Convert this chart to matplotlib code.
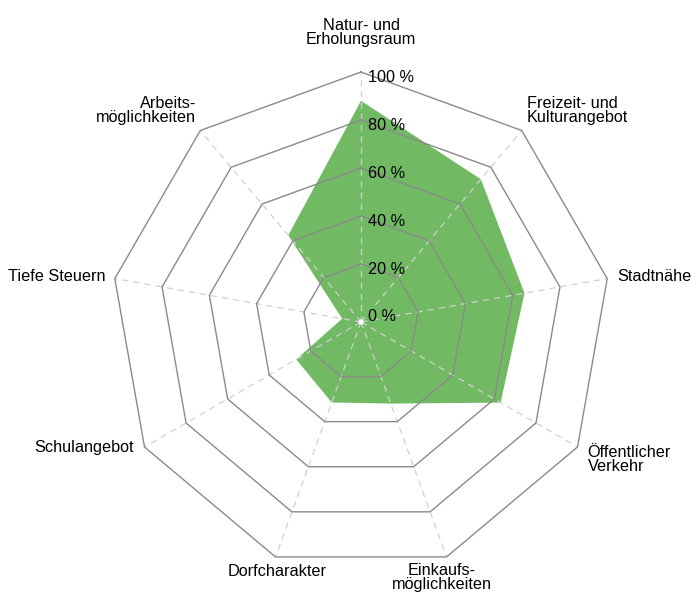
import matplotlib.pyplot as plt
import numpy as np

plt.rcParams['font.family'] = ['Liberation Sans', 'DejaVu Sans']

# data
categories = ['Natur- und\nErholungsraum', 'Freizeit- und\nKulturangebot', 'Stadtnähe',
              'Öffentlicher\nVerkehr', 'Einkaufs-\nmöglichkeiten', 'Dorfcharakter',
              'Schulangebot', 'Tiefe Steuern', 'Arbeits-\nmöglichkeiten']
values = [88, 73.5, 65, 63, 32, 31.5, 27, 3.8, 43]
levels = [0, 20, 40, 60, 80, 100]
level_labels = ['0 %', '20 %', '40 %', '60 %', '80 %', '100 %']

# label placement: (ha, va, dx px, dy px)
label_pos = [('center', 'bottom', 0, 25), ('left', 'bottom', 5, 5), ('left', 'center', 10, 2),
             ('left', 'top', 10, 2), ('center', 'top', -5, -6), ('center', 'top', 2, -7),
             ('right', 'center', -11, 0), ('right', 'center', -9, 2), ('right', 'bottom', -4, 5)]

green = '#71BA63'
fs = 11.7
n = len(categories)
theta = np.linspace(0, 2 * np.pi, n, endpoint=False)
theta_c = np.append(theta, theta[0])
rorigin = -4.17

fig = plt.figure(figsize=(6.93, 5.94), dpi=100)
ax = fig.add_axes([0.1602, 0.037, 0.7215, 0.8418], projection='polar')
ax.set_theta_zero_location('N')
ax.set_theta_direction(-1)
ax.set_ylim(0, 100)
ax.set_rorigin(rorigin)
ax.grid(False)
ax.spines['polar'].set_color('none')
ax.spines['inner'].set_color('none')
ax.spines['inner'].set_linewidth(0)
ax.set_xticks([])
ax.set_yticks([])
ax.patch.set_visible(False)

# filled data
ax.fill(theta_c, np.append(values, values[0]), color=green, lw=0, zorder=1, clip_on=False)

# spokes
for t in theta:
    ax.plot([t, t], [rorigin, 100], color='#d0d0d0', lw=0.9, ls=(0, (5, 4)),
            clip_on=False, zorder=2)

# polygon rings
for lv in levels[1:]:
    ax.plot(theta_c, [lv] * (n + 1), color='#8a8a8a', lw=1.0, clip_on=False, zorder=3)

ax.scatter([0], [rorigin], s=14, color='white', edgecolors='none', zorder=4, clip_on=False)

# radial tick labels
for lv, lab in zip(levels, level_labels):
    ax.annotate(lab, xy=(0, lv), xytext=(7, -5), textcoords='offset pixels',
                ha='left', va='center', fontsize=fs, color='black', zorder=5)

# category labels
for t, lab, (ha, va, dx, dy) in zip(theta, categories, label_pos):
    ax.annotate(lab, xy=(t, 100), xytext=(dx, dy), textcoords='offset pixels',
                ha=ha, va=va, fontsize=fs, linespacing=0.92, multialignment='center'
                if ha == 'center' else ha, annotation_clip=False)

fig.savefig('out.png', dpi=100)
